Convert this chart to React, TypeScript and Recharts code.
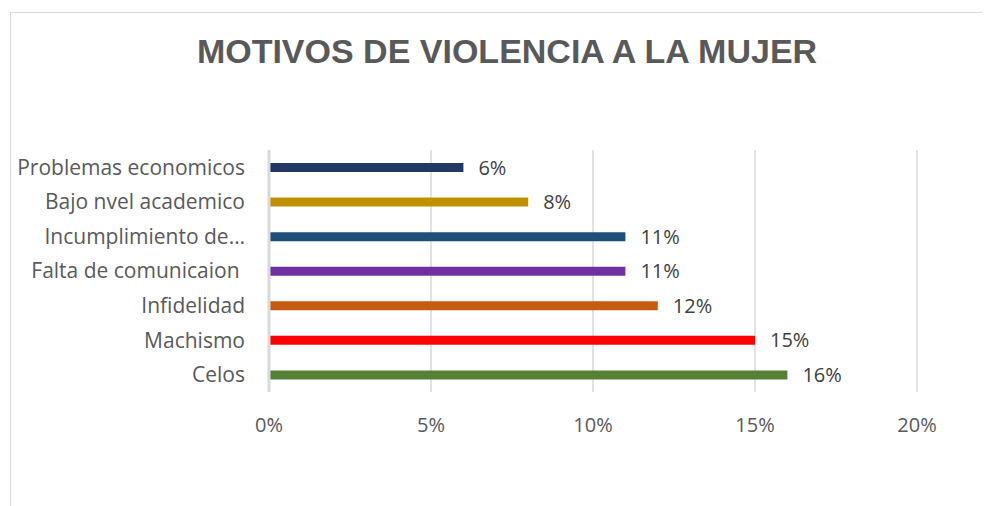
import { BarChart, Bar, XAxis, YAxis, CartesianGrid, Cell, LabelList } from 'recharts'

const categories = [
  'Problemas economicos',
  'Bajo nvel academico',
  'Incumplimiento de…',
  'Falta de comunicaion\u00a0',
  'Infidelidad',
  'Machismo',
  'Celos',
]
const values = [6, 8, 11, 11, 12, 15, 16]
const barColors = ['#203864', '#BF9000', '#1F4E79', '#7030A0', '#C55A11', '#FF0000', '#548235']
const xTicks = [0, 5, 10, 15, 20]

const data = categories.map((name, i) => ({ name, value: values[i] }))

const FONT = '"Open Sans", sans-serif'

export default function App() {
  return (
    <div style={{ position: 'relative', width: 982, height: 498, overflow: 'hidden', fontFamily: FONT }}>
      <div
        style={{
          position: 'absolute',
          left: 2,
          top: 4,
          width: 1100,
          height: 700,
          borderTop: '1px solid #d9d9d9',
          borderLeft: '1px solid #d9d9d9',
        }}
      />
      <div
        style={{
          position: 'absolute',
          left: 0,
          top: 24,
          width: 998,
          textAlign: 'center',
          fontFamily: '"Liberation Sans", Arial, sans-serif',
          fontWeight: 'bold',
          fontSize: 34,
          lineHeight: '38px',
          color: '#595959',
        }}
      >
        MOTIVOS DE VIOLENCIA A LA MUJER
      </div>
      <div style={{ position: 'absolute', left: 0, top: 0 }}>
        <BarChart
          width={982}
          height={498}
          data={data}
          layout="vertical"
          margin={{ top: 142, right: 73, bottom: 54, left: 0 }}
          barCategoryGap={0}
        >
          <CartesianGrid horizontal={false} stroke="#d9d9d9" strokeWidth={1.5} />
          <XAxis
            type="number"
            domain={[0, 20]}
            ticks={xTicks}
            tickFormatter={(v: number) => `${v}%`}
            axisLine={false}
            tickLine={false}
            tickMargin={20}
            height={60}
            tick={{ fill: '#595959', fontSize: 20, fontFamily: FONT }}
          />
          <YAxis
            type="category"
            dataKey="name"
            width={261}
            axisLine={{ stroke: '#d9d9d9', strokeWidth: 3 }}
            tickLine={false}
            tickMargin={18}
            interval={0}
            tick={{ fill: '#595959', fontSize: 21, fontFamily: FONT }}
          />
          <Bar dataKey="value" barSize={9} isAnimationActive={false}>
            {data.map((d, i) => (
              <Cell key={d.name} fill={barColors[i]} />
            ))}
            <LabelList
              dataKey="value"
              position="right"
              offset={15}
              formatter={(v: number) => `${v}%`}
              fill="#404040"
              fontSize={20}
              fontFamily={FONT}
            />
          </Bar>
        </BarChart>
      </div>
    </div>
  )
}
